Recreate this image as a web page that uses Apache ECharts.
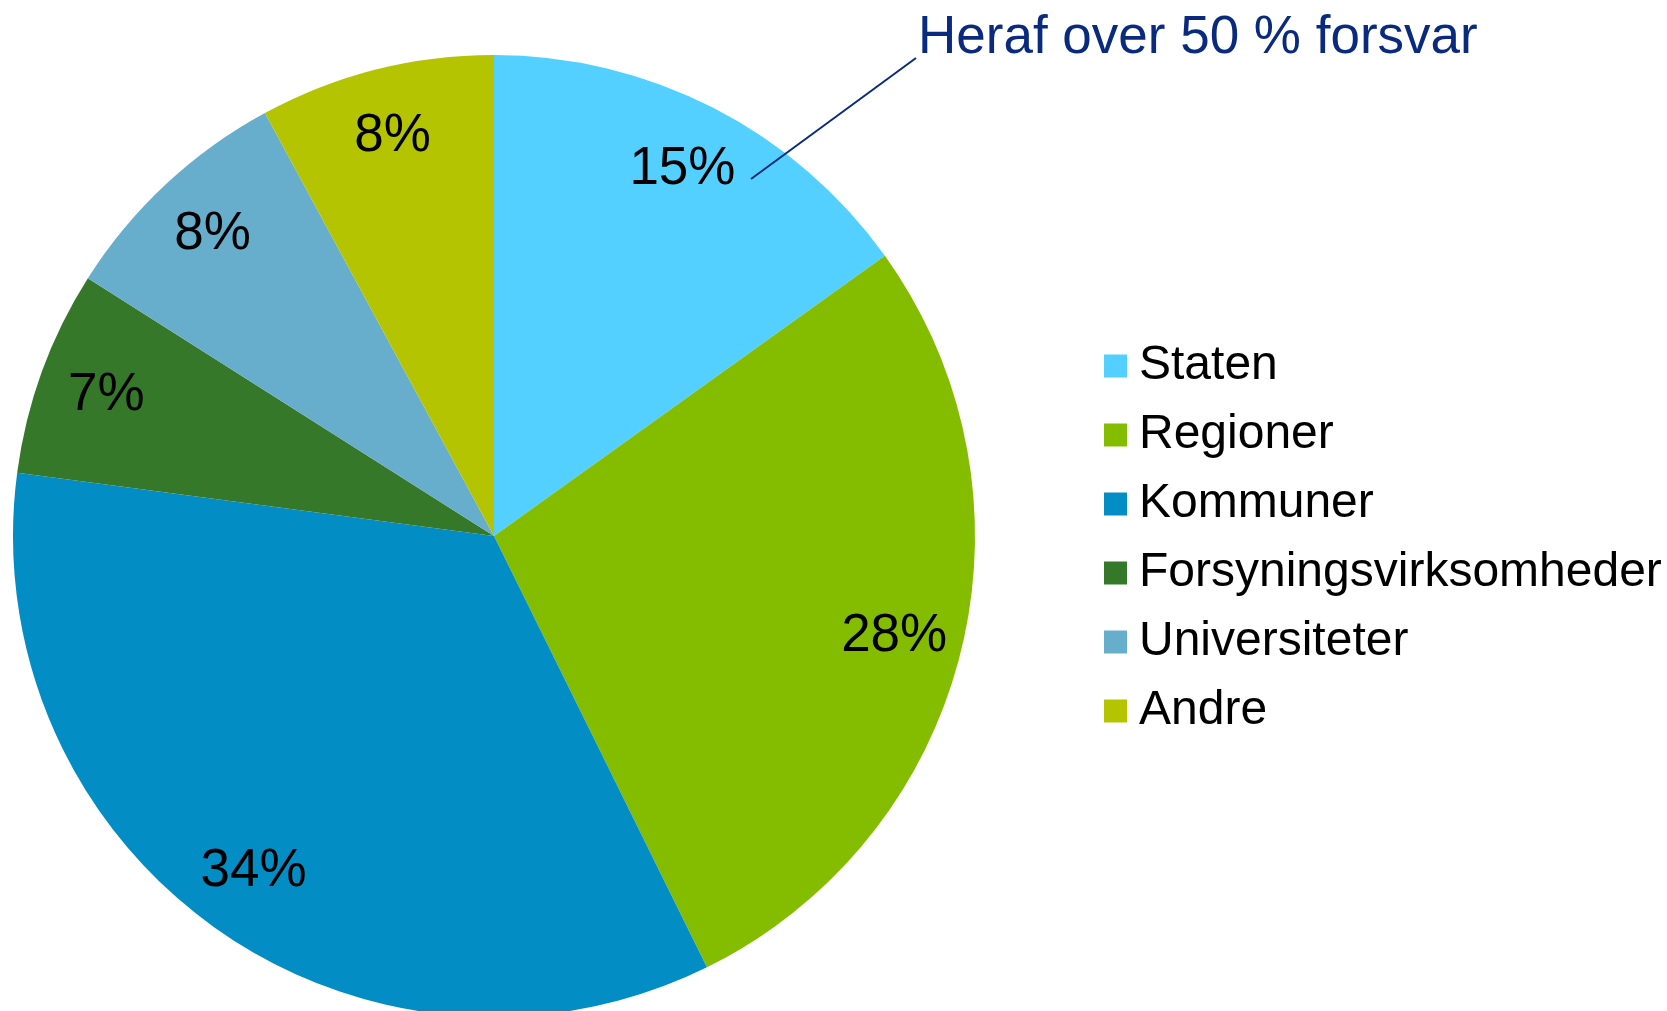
<!DOCTYPE html>
<html>
<head>
<meta charset="utf-8">
<script src="https://cdn.jsdelivr.net/npm/echarts@6/dist/echarts.min.js"></script>
<style>
html,body{margin:0;padding:0;background:#fff;}
#chart{width:1667px;height:1011px;}
</style>
</head>
<body>
<div id="chart"></div>
<script>
const categories = ['Staten', 'Regioner', 'Kommuner', 'Forsyningsvirksomheder', 'Universiteter', 'Andre'];
const values = [15.1, 27.6, 34.4, 6.9, 8.1, 7.9];
const colors = ['#53D0FF', '#84BD00', '#028EC5', '#36782A', '#66AECB', '#B4C400'];
const annotationText = 'Heraf over 50 % forsvar';

const FONT = '"Liberation Sans", Arial, sans-serif';
const data = categories.map((name, i) => ({ name, value: values[i], itemStyle: { color: colors[i] } }));
const labelData = categories.map((name, i) => ({ name, value: values[i] }));

const chart = echarts.init(document.getElementById('chart'));
chart.setOption({
  backgroundColor: '#fff',
  animation: false,
  legend: {
    orient: 'vertical',
    left: 1099,
    top: 337,
    itemWidth: 23,
    itemHeight: 23,
    itemGap: 21,
    icon: 'rect',
    selectedMode: false,
    data: categories,
    textStyle: { fontFamily: FONT, fontSize: 48, lineHeight: 48, color: '#000', padding: [0, 0, 0, 7] }
  },
  series: [
    {
      type: 'pie',
      center: [494, 536],
      radius: [0, 481],
      startAngle: 90,
      clockwise: true,
      silent: true,
      label: { show: false },
      labelLine: { show: false },
      itemStyle: { borderWidth: 0 },
      data: data
    },
    {
      type: 'pie',
      center: [494, 536],
      radius: [338, 481],
      startAngle: 90,
      clockwise: true,
      silent: true,
      avoidLabelOverlap: false,
      itemStyle: { color: 'rgba(0,0,0,0)', borderWidth: 0 },
      label: {
        show: true,
        position: 'inside',
        fontFamily: FONT,
        fontSize: 53,
        color: '#000',
        formatter: p => Math.round(p.percent) + '%'
      },
      labelLine: { show: false },
      data: labelData
    }
  ],
  graphic: [
    {
      type: 'line',
      shape: { x1: 751, y1: 179, x2: 916, y2: 58 },
      style: { stroke: '#0A2B7D', lineWidth: 2 },
      z: 100
    },
    {
      type: 'text',
      x: 918,
      y: 38,
      style: {
        text: annotationText,
        font: '53px ' + FONT,
        fill: '#0A2B7D',
        align: 'left',
        verticalAlign: 'middle'
      },
      z: 100
    }
  ]
});
</script>
</body>
</html>
